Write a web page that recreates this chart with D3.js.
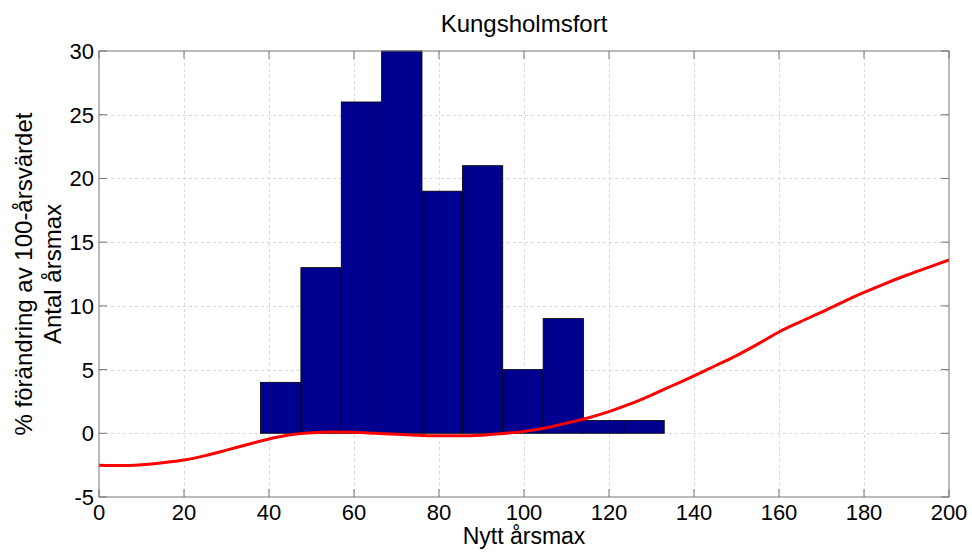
<!DOCTYPE html>
<html>
<head>
<meta charset="utf-8">
<script src="https://cdn.jsdelivr.net/npm/d3@7"></script>
<style>
  body { margin: 0; background: #fff; }
  text { font-family: "Liberation Sans", Arial, sans-serif; fill: #000; }
</style>
</head>
<body>
<div id="chartArea"></div>
<script>
    // Data

    const binEdges = [38, 47.5, 57, 66.5, 76, 85.5, 95, 104.5, 114, 123.5, 133];
    const binCounts = [4, 13, 26, 30, 19, 21, 5, 9, 1, 1];

    const curveX = [0, 5, 10, 15, 20, 25, 30, 35, 40, 45, 50, 55, 60, 65, 70, 75, 80, 85, 90, 95, 100,
        105, 110, 115, 120, 125, 130, 135, 140, 145, 150, 155, 160, 165, 170, 175, 180, 185, 190, 195, 200];
    const curveY = [-2.5, -2.53, -2.46, -2.31, -2.1, -1.75, -1.32, -0.88, -0.45, -0.12, 0.05, 0.1, 0.08, 0.0,
        -0.08, -0.15, -0.2, -0.2, -0.15, -0.02, 0.15, 0.42, 0.8, 1.2, 1.7, 2.3, 3.0, 3.75, 4.5, 5.3, 6.1,
        7.0, 7.95, 8.75, 9.5, 10.3, 11.05, 11.75, 12.4, 13.0, 13.6];

    const xTicks = d3.range(0, 201, 20);
    const yTicks = d3.range(-5, 31, 5);

    // Dimensions

    const width = 972,
        height = 552,
        margin = {
            top: 51,
            left: 99,
            bottom: 55,
            right: 23
        };

    const x = d3.scaleLinear().domain([0, 200]).range([margin.left, width - margin.right]);
    const y = d3.scaleLinear().domain([-5, 30]).range([height - margin.bottom, margin.top]);

    const svg = d3.select("#chartArea")
        .append("svg")
        .attr("width", width)
        .attr("height", height);

    // Grid

    const grid = svg.append("g")
        .attr("stroke", "#d9d9d9")
        .attr("stroke-dasharray", "3,3")
        .attr("stroke-width", 1);

    grid.selectAll(".gx")
        .data(xTicks.slice(1, -1))
        .join("line")
        .attr("x1", d => Math.round(x(d)) + 0.5)
        .attr("x2", d => Math.round(x(d)) + 0.5)
        .attr("y1", y(30))
        .attr("y2", y(-5));

    grid.selectAll(".gy")
        .data(yTicks.slice(1, -1))
        .join("line")
        .attr("x1", x(0))
        .attr("x2", x(200))
        .attr("y1", d => Math.round(y(d)) + 0.5)
        .attr("y2", d => Math.round(y(d)) + 0.5);

    // Histogram bars

    const bins = binCounts.map((c, i) => ({ x0: binEdges[i], x1: binEdges[i + 1], count: c }));

    svg.append("g")
        .selectAll("rect")
        .data(bins)
        .join("rect")
        .attr("x", d => x(d.x0))
        .attr("y", d => y(d.count))
        .attr("width", d => x(d.x1) - x(d.x0))
        .attr("height", d => y(0) - y(d.count))
        .attr("fill", "#00008f")
        .attr("stroke", "#000")
        .attr("stroke-width", 0.8);

    // Red curve

    const line = d3.line()
        .x(d => x(d[0]))
        .y(d => y(d[1]))
        .curve(d3.curveMonotoneX);

    svg.append("path")
        .datum(curveX.map((v, i) => [v, curveY[i]]))
        .attr("d", line)
        .attr("fill", "none")
        .attr("stroke", "#ff0000")
        .attr("stroke-width", 3);

    // Axes box and ticks

    const axisColor = "#777";
    const tickLen = 8;

    svg.append("rect")
        .attr("x", x(0))
        .attr("y", y(30))
        .attr("width", x(200) - x(0))
        .attr("height", y(-5) - y(30))
        .attr("fill", "none")
        .attr("stroke", axisColor)
        .attr("stroke-width", 1);

    const ticks = svg.append("g").attr("stroke", axisColor);

    ticks.selectAll(".tb")
        .data(xTicks)
        .join("line")
        .attr("x1", d => x(d)).attr("x2", d => x(d))
        .attr("y1", y(-5)).attr("y2", y(-5) - tickLen);

    ticks.selectAll(".tt")
        .data(xTicks)
        .join("line")
        .attr("x1", d => x(d)).attr("x2", d => x(d))
        .attr("y1", y(30)).attr("y2", y(30) + tickLen);

    ticks.selectAll(".tl")
        .data(yTicks)
        .join("line")
        .attr("x1", x(0)).attr("x2", x(0) + tickLen)
        .attr("y1", d => y(d)).attr("y2", d => y(d));

    ticks.selectAll(".tr")
        .data(yTicks)
        .join("line")
        .attr("x1", x(200)).attr("x2", x(200) - tickLen)
        .attr("y1", d => y(d)).attr("y2", d => y(d));

    // Tick labels

    svg.append("g")
        .selectAll("text")
        .data(xTicks)
        .join("text")
        .attr("x", d => x(d))
        .attr("y", y(-5) + 23)
        .attr("text-anchor", "middle")
        .attr("font-size", 22)
        .text(d => d);

    svg.append("g")
        .selectAll("text")
        .data(yTicks)
        .join("text")
        .attr("x", x(0) - 5)
        .attr("y", d => y(d) + 8)
        .attr("text-anchor", "end")
        .attr("font-size", 22)
        .text(d => d);

    // Titles

    svg.append("text")
        .attr("x", (x(0) + x(200)) / 2)
        .attr("y", 32)
        .attr("text-anchor", "middle")
        .attr("font-size", 24)
        .text("Kungsholmsfort");

    svg.append("text")
        .attr("x", (x(0) + x(200)) / 2)
        .attr("y", 544)
        .attr("text-anchor", "middle")
        .attr("font-size", 23)
        .text("Nytt årsmax");

    const yl = svg.append("text")
        .attr("transform", `translate(32, ${(y(30) + y(-5)) / 2}) rotate(-90)`)
        .attr("text-anchor", "middle")
        .attr("font-size", 24);

    yl.append("tspan").attr("x", 0).attr("dy", 0).text("% förändring av 100-årsvärdet");
    yl.append("tspan").attr("x", 0).attr("dy", 29).text("Antal årsmax");
</script>
</body>
</html>
